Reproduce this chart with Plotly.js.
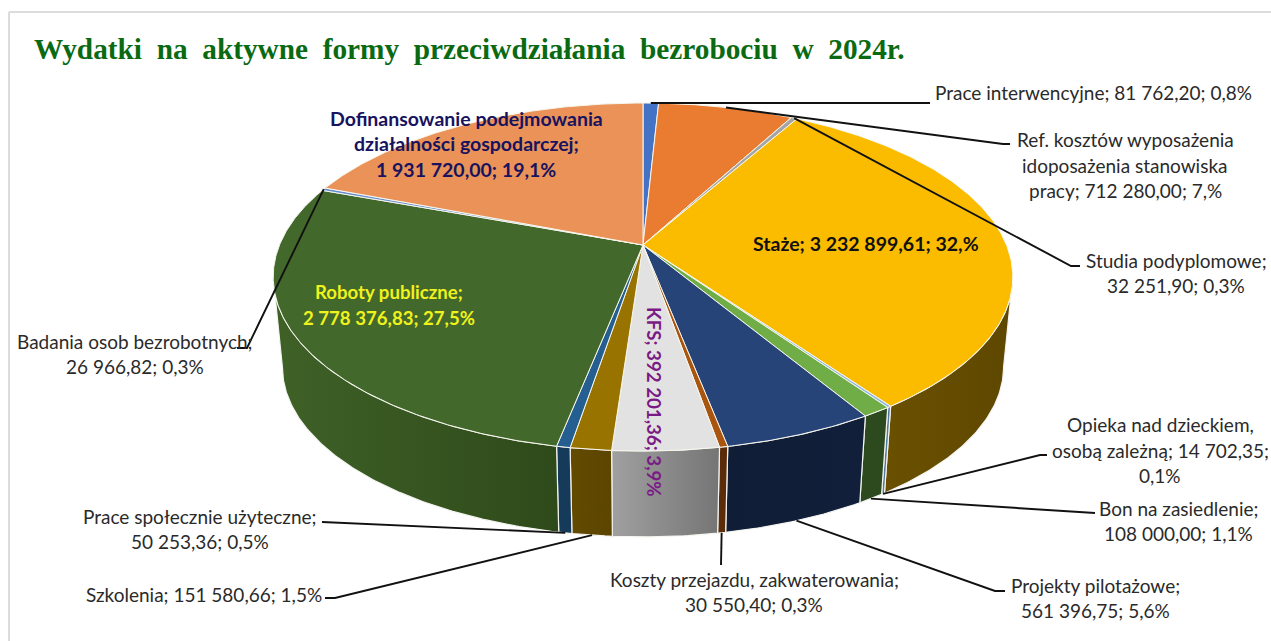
<!DOCTYPE html>
<html><head><meta charset="utf-8">
<script src="https://cdn.plot.ly/plotly-3.0.1.min.js"></script>
<style>html,body{margin:0;padding:0;background:#fff}</style></head>
<body><div id="chart" style="width:1271px;height:641px"></div>
<script>
// ---------- data ----------
const categories = ["Prace interwencyjne","Ref. kosztów wyposażenia idoposażenia stanowiska pracy","Studia podyplomowe","Staże","Opieka nad dzieckiem, osobą zależną","Bon na zasiedlenie","Projekty pilotażowe","Koszty przejazdu, zakwaterowania","KFS","Szkolenia","Prace społecznie użyteczne","Roboty publiczne","Badania osob bezrobotnych","Dofinansowanie podejmowania działalności gospodarczej"];
const values = [81762.20,712280.00,32251.90,3232899.61,14702.35,108000.00,561396.75,30550.40,392201.36,151580.66,50253.36,2778376.83,26966.82,1931720.00];
const labelLines = [
 ["Prace interwencyjne; 81 762,20; 0,8%"],
 ["Ref. kosztów wyposażenia","idoposażenia stanowiska","pracy; 712 280,00; 7,%"],
 ["Studia podyplomowe;","32 251,90; 0,3%"],
 ["Staże; 3 232 899,61; 32,%"],
 ["Opieka nad dzieckiem,","osobą zależną; 14 702,35;","0,1%"],
 ["Bon na zasiedlenie;","108 000,00; 1,1%"],
 ["Projekty pilotażowe;","561 396,75; 5,6%"],
 ["Koszty przejazdu, zakwaterowania;","30 550,40; 0,3%"],
 ["KFS; 392 201,36; 3,9%"],
 ["Szkolenia; 151 580,66; 1,5%"],
 ["Prace społecznie użyteczne;","50 253,36; 0,5%"],
 ["Roboty publiczne;","2 778 376,83; 27,5%"],
 ["Badania osob bezrobotnych;","26 966,82; 0,3%"],
 ["Dofinansowanie podejmowania","działalności gospodarczej;","1 931 720,00; 19,1%"]
];
const titleText = "Wydatki\u00A0 na\u00A0 aktywne\u00A0 formy\u00A0 przeciwdziałania\u00A0 bezrobociu\u00A0 w\u00A0 2024r.";

// ---------- styles ----------
const topColors = ["#4472C4","#E97C30","#A5A5A5","#FBBC00","#8FB8DE","#70AD47","#264478","#A9540F","#E2E2E2","#997300","#255E91","#43682B","#698ED0","#EB9258"];
const sideColors = [["#2A4680","#2A4680"],["#8F4C1D","#8F4C1D"],["#666666","#666666"],["#6A5000","#5E4700"],["#56789A","#56789A"],["#2C4A1E","#2C4A1E"],["#0F1D36","#121F3A"],["#5A2C0A","#5A2C0A"],["#A0A0A0","#757575"],["#634A00","#5C4500"],["#163A5A","#163A5A"],["#3F6127","#2E4A1A"],["#3F5A86","#3F5A86"],["#8F5A36","#8F5A36"]];
const labelStyles = {3:{color:"#111",bold:1},8:{color:"#7A1A86",bold:1,size:18.7},11:{color:"#EFF21C",bold:1,size:18.6},13:{color:"#17135F",bold:1}};
const labelPos = [[1093,[92]],[1125,[139,165,190]],[1176,[260,285]],[866,[243]],[1160,[424,450,475]],[1178,[508,533]],[1095,[585,610]],[754,[579,604]],[654,[402]],[204,[594]],[200,[516,541]],[389,[292,318]],[135,[341,366]],[466,[118,143,169]]];
// leader geometry: which rim it leaves from, and its elbow points in the page
const leaders = {0:{rim:"top",path:[[930,103]]},1:{rim:"top",path:[[1003,144],[1010,144]]},2:{rim:"top",path:[[1071,266],[1080,266]]},4:{rim:"bot",path:[[1040,455],[1047,455]]},5:{rim:"bot",path:[[1087,513],[1095,513]]},6:{rim:"bot",path:[[995,591],[1005,591]]},7:{rim:"bot",path:[[721,565]]},9:{rim:"bot",path:[[335,598],[325,598]]},10:{rim:"bot",path:[[322,522]]},12:{rim:"top",path:[[247,348],[237,348]]}};

// ---------- pie projection ----------
const CX=643, CY=245, K=363.5, K2=168.1, PERSP=-0.184, SHRINK=0.975, DROP=91;
function rim(deg,surface){
  const t=deg*Math.PI/180, u=-Math.cos(t), v=Math.sin(t), w=1+PERSP*u;
  const X=K*v/w, Y=K2*u/w;
  return surface==="top" ? [CX+X,CY+Y] : [CX+X*SHRINK,CY+Y*SHRINK+DROP];
}
const total=values.reduce((a,b)=>a+b,0);
let acc=0;
const slices=values.map((v,i)=>{const a=acc/total*360; acc+=v; return {i,a,b:acc/total*360,mid:(a+acc/total*360)/2};});
function arc(a,b,surface){const n=Math.max(2,Math.ceil((b-a)/0.5));const p=[];for(let j=0;j<=n;j++)p.push(rim(a+(b-a)*j/n,surface));return p;}
// the wall is visible only between the two silhouette tangents of the rim
const tanA=Math.acos(PERSP)*180/Math.PI, tanB=360-tanA;

const traces=[];
slices.forEach(s=>{
  const a=Math.max(s.a,tanA), b=Math.min(s.b,tanB);
  if(b<=a) return;
  const pts=arc(a,b,"top").concat(arc(a,b,"bot").reverse()); pts.push(pts[0]);
  traces.push({type:"scatter",mode:"lines",x:pts.map(p=>p[0]),y:pts.map(p=>p[1]),fill:"toself",
    fillgradient:{type:"horizontal",colorscale:[[0,sideColors[s.i][0]],[1,sideColors[s.i][1]]]},
    line:{color:"#F4F4F0",width:1.2},hoverinfo:"skip",showlegend:false});
});
// top faces
slices.forEach(s=>{
  const pts=[[CX,CY]].concat(arc(s.a,s.b,"top")); pts.push([CX,CY]);
  traces.push({type:"scatter",mode:"lines",name:categories[s.i],x:pts.map(p=>p[0]),y:pts.map(p=>p[1]),fill:"toself",fillcolor:topColors[s.i],
    line:{color:"#F7F7EE",width:1},hoverinfo:"name",showlegend:false});
});
// leaders
Object.keys(leaders).forEach(k=>{
  const s=slices[k], L=leaders[k], pts=[rim(s.mid,L.rim)].concat(L.path);
  traces.push({type:"scatter",mode:"lines",x:pts.map(p=>p[0]),y:pts.map(p=>p[1]),line:{color:"#111",width:1.9},hoverinfo:"skip",showlegend:false});
});

// ---------- labels ----------
const annotations=[];
labelLines.forEach((lines,i)=>{
  const st=labelStyles[i]||{}, pos=labelPos[i];
  lines.forEach((t,j)=>annotations.push({xref:"x",yref:"y",x:pos[0],y:pos[1][j],text:st.bold?"<b>"+t+"</b>":t,showarrow:false,xanchor:"center",yanchor:"middle",
    textangle:i===8?90:0,font:{family:"Lato, sans-serif",size:st.size||(st.bold?19.5:19),color:st.color||"#2A2A2A"}}));
});

const layout={width:1271,height:641,margin:{l:0,r:0,t:0,b:0},paper_bgcolor:"#fff",plot_bgcolor:"#fff",showlegend:false,
  title:{text:"<b>"+titleText+"</b>",x:34/1271,xanchor:"left",xref:"paper",y:1-48.5/641,yanchor:"middle",yref:"paper",font:{family:"Liberation Serif, serif",size:29.3,color:"#0A6A12"}},
  xaxis:{range:[0,1271],visible:false,fixedrange:true},
  yaxis:{range:[641,0],visible:false,fixedrange:true},
  shapes:[{type:"line",xref:"x",yref:"y",x0:9,y0:641,x1:9,y1:12,line:{color:"#DCDCDC",width:2}},
          {type:"line",xref:"x",yref:"y",x0:9,y0:12,x1:1271,y1:12,line:{color:"#DCDCDC",width:2}}],
  annotations};
Plotly.newPlot("chart",traces,layout,{displayModeBar:false,responsive:false});
</script></body></html>
